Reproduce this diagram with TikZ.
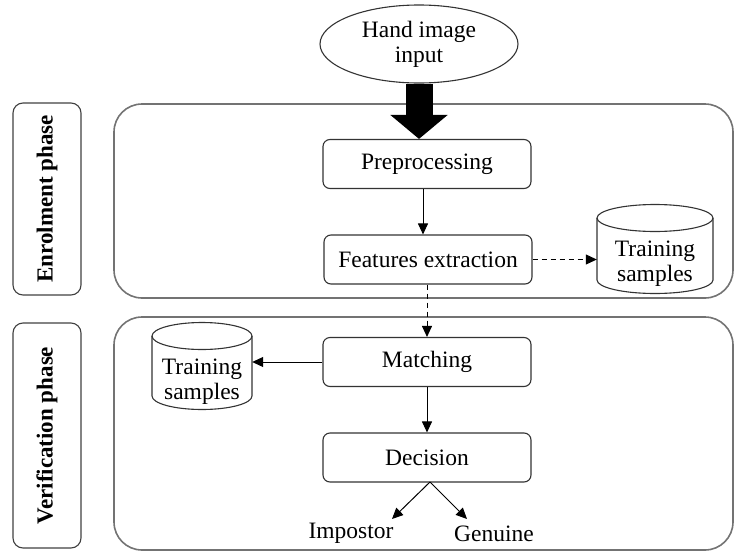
\documentclass[tikz,border=0pt]{standalone}
\usepackage{fontspec}
\setmainfont{Liberation Serif}
\usetikzlibrary{shapes.geometric,arrows.meta}
\tikzset{
  bigbox/.style={draw=black!55,line width=1.6pt,rounded corners=28pt},
  phasebox/.style={draw=black!75,line width=1.1pt,rounded corners=10pt,minimum width=68pt,inner sep=0pt},
  phasetext/.style={font=\fontsize{23}{25}\selectfont\bfseries,rotate=90},
  stepbox/.style={draw=black!80,line width=1.1pt,rounded corners=7pt,minimum width=208pt,minimum height=49pt,inner sep=0pt,font=\fontsize{23.5}{25}\selectfont},
  txt/.style={font=\fontsize{23.5}{25}\selectfont,align=center,inner sep=0pt},
  conn/.style={line width=1pt,-{Triangle[width=10pt,length=11pt]}},
  dconn/.style={conn,dash pattern=on 5pt off 4pt},
  cylline/.style={draw=black!80,line width=1.1pt}
}
\newcommand\dbcyl[5]{% cx, left, right, top cy, bottom cy
  \draw[cylline] (#2,#4) -- (#2,#5) arc[start angle=180,end angle=0,x radius={(#3-#2)/2},y radius=13.5] -- (#3,#4);
  \draw[cylline] (#1,#4) ellipse[x radius={(#3-#2)/2},y radius=13.5];
}
\begin{document}
\begin{tikzpicture}[x=1pt,y=-1pt]
\useasboundingbox (0,0) rectangle (734,552);
% big phase boxes
\draw[bigbox] (114,104) rectangle (733,298);
\draw[bigbox] (114,317) rectangle (733,550);
% phase labels
\node[phasebox,minimum height=192pt] (enr) at (47,199) {};
\node[phasetext] at (enr.center) {Enrolment phase};
\node[phasebox,minimum height=225pt] (ver) at (47,435.5) {};
\node[phasetext] at (ver.center) {Verification phase};
% input ellipse
\node[ellipse,draw=black!80,line width=1.1pt,minimum width=198pt,minimum height=78pt,inner sep=0pt,txt] (hand) at (419,44) {Hand image\\input};
% steps
\node[stepbox] (pre) at (427,164) {Preprocessing};
\node[stepbox] (fe) at (428,259.5) {Features extraction};
\node[stepbox] (mat) at (427,362) {Matching};
\node[stepbox] (dec) at (427,457.5) {Decision};
% cylinders
\dbcyl{655}{597}{713}{218}{280}
\node[txt,minimum width=116pt,minimum height=88pt] (ts1) at (655,249) {};
\node[txt] at (655,264) {Training\\samples};
\dbcyl{202}{152}{252}{336}{396}
\node[txt,minimum width=100pt,minimum height=88pt] (ts2) at (202,366) {};
\node[txt] at (202,382) {Training\\samples};
% outcomes
\node[txt] (imp) at (351,533) {Impostor};
\node[txt] (gen) at (494,534) {Genuine};
% connectors
\draw[line width=27pt,-{Triangle[width=56pt,length=24pt]}] (hand.south) -- (hand.south |- pre.north);
\draw[conn] (pre.south -| 423,0) -- (fe.north -| 423,0);
\draw[dconn] (fe.east) -- (fe.east -| ts1.west);
\draw[dconn] (fe.south -| 427,0) -- (mat.north -| 427,0);
\draw[conn] (mat.west) -- (mat.west -| ts2.east);
\draw[conn] (mat.south -| 427,0) -- (dec.north -| 427,0);
\coordinate (dsp) at (430,482);
\draw[conn] (dsp) -- (392,519);
\draw[conn] (dsp) -- (467,519);
\end{tikzpicture}
\end{document}
